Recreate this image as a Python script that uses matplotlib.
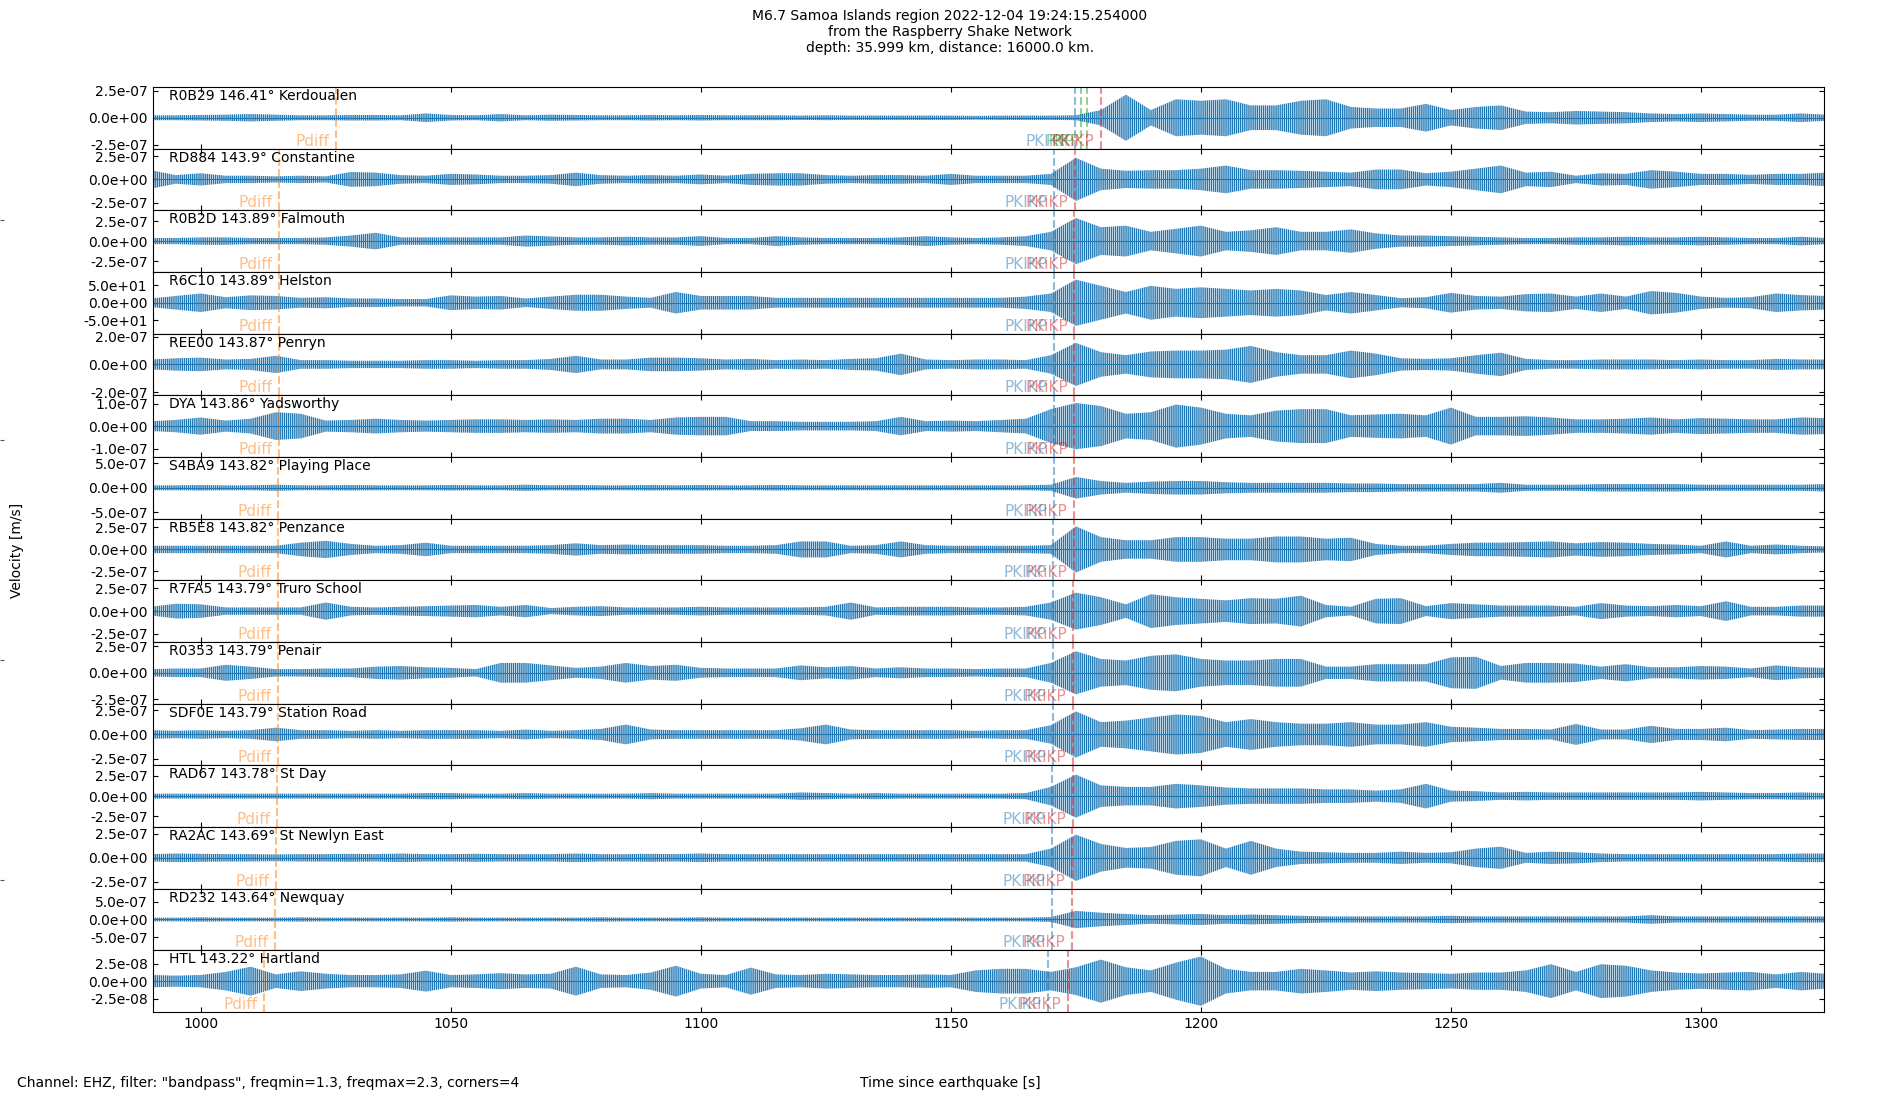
import numpy as np
import matplotlib
matplotlib.use("Agg")
import matplotlib.pyplot as plt
from matplotlib.ticker import FormatStrFormatter, MultipleLocator
from matplotlib.transforms import blended_transform_factory

# stations (top to bottom)
stations = ["R0B29", "RD884", "R0B2D", "R6C10", "REE00", "DYA", "S4BA9", "RB5E8",
            "R7FA5", "R0353", "SDF0E", "RAD67", "RA2AC", "RD232", "HTL"]
distances = ["146.41", "143.9", "143.89", "143.89", "143.87", "143.86", "143.82", "143.82",
             "143.79", "143.79", "143.79", "143.78", "143.69", "143.64", "143.22"]
places = ["Kerdoualen", "Constantine", "Falmouth", "Helston", "Penryn", "Yadsworthy",
          "Playing Place", "Penzance", "Truro School", "Penair", "Station Road", "St Day",
          "St Newlyn East", "Newquay", "Hartland"]

# max amplitude of each trace (axis limit) and the y tick value shown
y_max = [2.85e-07, 3.3e-07, 3.85e-07, 87.0, 2.22e-07, 1.37e-07, 6.25e-07, 3.5e-07,
         3.4e-07, 2.9e-07, 3.2e-07, 3.8e-07, 3.2e-07, 8.6e-07, 4.4e-08]
y_tick = [2.5e-07, 2.5e-07, 2.5e-07, 50.0, 2.0e-07, 1.0e-07, 5.0e-07, 2.5e-07,
          2.5e-07, 2.5e-07, 2.5e-07, 2.5e-07, 2.5e-07, 5.0e-07, 2.5e-08]

# phase arrival times [s]
t_pdiff = [1027.0, 1015.7, 1015.7, 1015.7, 1015.7, 1015.6, 1015.5, 1015.5,
           1015.4, 1015.4, 1015.4, 1015.3, 1015.0, 1014.8, 1012.7]
t_pkikp = [1174.9, 1170.6, 1170.6, 1170.6, 1170.6, 1170.6, 1170.55, 1170.5,
           1170.4, 1170.4, 1170.4, 1170.3, 1170.25, 1170.2, 1169.4]
t_pkikp2 = [1180.0, 1174.85, 1174.7, 1174.7, 1174.7, 1174.7, 1174.6, 1174.55,
            1174.5, 1174.45, 1174.45, 1174.4, 1174.26, 1174.2, 1173.4]
t_pkp_r0b29 = [1176.0, 1177.2]

# trace envelope, % of axis limit, every 5 s from 990 to 1325 s
env_start, env_step = 990, 5
env_R0B29 = [8, 8, 9, 10, 12, 10, 8, 8, 9, 9, 8, 14, 9, 8, 12, 8, 10, 9, 8, 8, 9, 8, 9,
             8, 8, 8, 7, 8, 7, 7, 7, 7, 7, 6, 7, 7, 7, 8, 25, 75, 25, 60, 55, 60, 40, 40,
             55, 60, 35, 30, 30, 45, 25, 35, 40, 20, 18, 22, 20, 18, 14, 12, 14, 12, 10, 10, 14, 10]
env_RD884 = [30, 14, 20, 12, 12, 10, 12, 10, 24, 22, 14, 12, 18, 16, 12, 12, 14, 22, 14, 12, 14, 12, 16,
             12, 18, 20, 20, 14, 12, 14, 14, 12, 18, 12, 12, 12, 18, 70, 35, 28, 30, 30, 35, 45, 30, 30,
             28, 25, 22, 32, 32, 20, 25, 35, 45, 22, 25, 12, 20, 18, 30, 25, 18, 18, 15, 18, 18, 22]
env_R0B2D = [10, 10, 12, 12, 10, 10, 10, 12, 18, 27, 12, 12, 12, 12, 12, 18, 15, 12, 12, 14, 12, 12, 16,
             10, 10, 16, 12, 10, 10, 10, 12, 16, 12, 10, 12, 16, 30, 75, 45, 50, 30, 40, 50, 30, 35, 45,
             30, 30, 38, 25, 18, 18, 16, 14, 12, 10, 10, 12, 12, 14, 12, 12, 14, 12, 10, 10, 14, 10]
env_R6C10 = [14, 22, 30, 18, 24, 22, 16, 18, 14, 14, 12, 12, 24, 20, 22, 14, 20, 26, 26, 20, 16, 35, 22,
             22, 22, 16, 16, 16, 16, 16, 16, 16, 16, 16, 16, 20, 30, 75, 55, 35, 55, 45, 50, 45, 40, 45,
             40, 25, 35, 25, 15, 18, 32, 22, 20, 28, 30, 20, 30, 20, 38, 32, 20, 16, 18, 30, 25, 22]
env_REE00 = [16, 20, 22, 16, 18, 28, 14, 14, 12, 12, 12, 14, 14, 12, 14, 14, 18, 28, 16, 16, 22, 22, 20,
             16, 18, 14, 16, 14, 18, 20, 35, 16, 14, 16, 16, 14, 30, 70, 40, 30, 42, 45, 45, 48, 60, 40,
             30, 30, 45, 35, 20, 18, 20, 30, 38, 18, 14, 14, 16, 16, 16, 14, 16, 14, 14, 18, 16, 16]
env_DYA = [16, 20, 28, 18, 24, 45, 40, 18, 20, 24, 20, 18, 20, 22, 22, 20, 22, 20, 24, 24, 20, 28, 30,
           30, 16, 16, 14, 14, 14, 16, 30, 16, 18, 16, 20, 24, 55, 75, 65, 40, 45, 70, 60, 40, 35, 50,
           55, 55, 35, 38, 40, 35, 60, 30, 30, 32, 28, 22, 22, 24, 28, 22, 26, 24, 22, 22, 28, 26]
env_S4BA9 = [8, 8, 9, 8, 8, 10, 8, 8, 9, 8, 8, 8, 9, 8, 8, 10, 8, 9, 8, 8, 9, 8, 9,
             8, 8, 9, 8, 8, 8, 8, 8, 8, 8, 8, 8, 8, 10, 35, 22, 16, 20, 22, 22, 18, 16, 16,
             16, 16, 14, 14, 12, 12, 12, 12, 16, 10, 10, 10, 12, 12, 12, 12, 10, 10, 10, 10, 10, 12]
env_RB5E8 = [12, 12, 12, 12, 12, 12, 22, 28, 18, 12, 14, 22, 12, 12, 12, 12, 14, 20, 14, 16, 14, 14, 14,
             12, 12, 14, 26, 26, 12, 14, 26, 14, 12, 12, 12, 12, 14, 75, 40, 30, 30, 40, 40, 35, 35, 42,
             42, 35, 38, 18, 12, 12, 18, 22, 22, 24, 26, 20, 24, 22, 18, 16, 12, 26, 12, 16, 12, 10]
env_R7FA5 = [14, 24, 22, 12, 12, 12, 12, 28, 14, 12, 14, 16, 18, 20, 14, 20, 10, 14, 16, 12, 12, 12, 14,
             12, 12, 12, 12, 14, 28, 12, 14, 14, 14, 12, 12, 14, 28, 60, 45, 22, 55, 45, 40, 35, 42, 40,
             50, 20, 14, 40, 42, 16, 26, 22, 18, 18, 18, 14, 26, 18, 16, 20, 16, 32, 14, 14, 18, 18]
env_R0353 = [12, 14, 14, 26, 20, 12, 12, 14, 14, 20, 22, 18, 16, 12, 32, 32, 24, 16, 20, 32, 22, 26, 16,
             14, 14, 14, 24, 18, 22, 14, 18, 14, 14, 12, 14, 14, 32, 70, 45, 40, 55, 60, 45, 40, 40, 45,
             45, 20, 20, 28, 28, 28, 50, 52, 22, 32, 32, 30, 20, 28, 18, 18, 22, 20, 14, 24, 18, 16]
env_SDF0E = [14, 12, 14, 12, 14, 22, 14, 14, 12, 14, 12, 14, 14, 14, 12, 16, 12, 14, 18, 32, 16, 14, 14,
             14, 14, 14, 20, 32, 16, 14, 14, 14, 14, 12, 14, 14, 30, 75, 40, 45, 55, 65, 60, 40, 50, 40,
             35, 35, 40, 32, 32, 40, 25, 22, 18, 18, 16, 34, 16, 16, 28, 18, 18, 22, 14, 16, 18, 18]
env_RAD67 = [8, 8, 8, 8, 8, 8, 8, 8, 8, 8, 8, 10, 10, 8, 8, 10, 8, 8, 8, 8, 10, 8, 8,
             8, 8, 8, 12, 10, 8, 10, 8, 8, 8, 8, 8, 10, 30, 70, 35, 30, 30, 40, 35, 28, 25, 25,
             25, 22, 22, 18, 22, 40, 18, 16, 12, 14, 12, 12, 12, 12, 12, 12, 14, 12, 10, 10, 12, 10]
env_RA2AC = [12, 14, 13, 12, 12, 11, 12, 12, 13, 12, 14, 12, 12, 13, 12, 12, 12, 14, 12, 12, 13, 12, 14,
             12, 12, 12, 12, 12, 12, 12, 12, 12, 12, 12, 12, 12, 30, 75, 45, 32, 35, 55, 60, 30, 55, 30,
             20, 18, 16, 16, 20, 16, 18, 30, 36, 16, 20, 18, 14, 12, 12, 12, 12, 12, 12, 12, 14, 14]
env_RD232 = [6, 6, 7, 6, 6, 6, 7, 6, 6, 6, 6, 6, 7, 6, 6, 6, 6, 6, 7, 6, 6, 6, 7,
             6, 6, 6, 6, 6, 6, 6, 6, 6, 6, 6, 6, 6, 8, 28, 22, 18, 14, 16, 18, 14, 16, 14,
             12, 10, 10, 10, 10, 10, 12, 10, 10, 10, 10, 10, 10, 10, 14, 10, 10, 10, 10, 10, 10, 10]
env_HTL = [20, 18, 20, 30, 47, 22, 32, 24, 20, 20, 22, 34, 20, 22, 26, 22, 24, 47, 22, 20, 28, 50, 24,
           20, 44, 22, 20, 24, 22, 20, 20, 22, 20, 35, 40, 40, 30, 45, 70, 45, 35, 60, 80, 40, 30, 30,
           40, 35, 28, 32, 28, 26, 24, 28, 28, 35, 55, 30, 55, 50, 35, 28, 25, 28, 30, 22, 30, 24]
envelopes = [env_R0B29, env_RD884, env_R0B2D, env_R6C10, env_REE00, env_DYA, env_S4BA9, env_RB5E8,
             env_R7FA5, env_R0353, env_SDF0E, env_RAD67, env_RA2AC, env_RD232, env_HTL]

title = ("M6.7 Samoa Islands region 2022-12-04 19:24:15.254000\n"
         "from the Raspberry Shake Network\n"
         "depth: 35.999 km, distance: 16000.0 km.")

plt.rcParams["hatch.linewidth"] = 1.0

fig = plt.figure(figsize=(19, 11), dpi=100)
gs = fig.add_gridspec(len(stations), 1, left=0.0804, right=0.96, top=0.921, bottom=0.080, hspace=0)

# faint marks of an invisible full-figure axis on the left border
bg = fig.add_axes([0, 0, 1, 1], frameon=False, zorder=-1)
bg.set_xticks([])
bg.set_yticks([0.2, 0.4, 0.6, 0.8])
bg.set_yticklabels([])
bg.tick_params(axis="y", direction="in", length=3, width=0.8, colors="#555555")
bg.set_ylim(0, 1)

c_blue, c_orange, c_green, c_red = "C0", "C1", "C2", "C3"
axes = []
for i, st in enumerate(stations):
    ax = fig.add_subplot(gs[i], sharex=axes[0] if axes else None)
    axes.append(ax)
    env = np.array(envelopes[i]) / 100.0 * y_max[i]
    t = env_start + env_step * np.arange(len(env))
    # dense vertical hatching stands in for the fast wiggles of the trace
    ax.fill_between(t, -env, env, facecolor="none", edgecolor=c_blue, hatch="||||||||", linewidth=0)
    ax.axhline(0, color=c_blue, lw=0.8)
    ax.set_ylim(-y_max[i], y_max[i])
    ax.set_yticks([-y_tick[i], 0, y_tick[i]])
    ax.yaxis.set_major_formatter(FormatStrFormatter("%.1e"))
    ax.tick_params(direction="in", top=True, right=True, labelsize=10)
    ax.tick_params(axis="x", labelbottom=(i == len(stations) - 1))
    ax.text(0.01, 0.965, f"{st} {distances[i]}\u00b0 {places[i]}", transform=ax.transAxes,
            va="top", ha="left", fontsize=10)

    tr = blended_transform_factory(ax.transData, ax.transAxes)
    phases = [("Pdiff", t_pdiff[i], c_orange), ("PKIKP", t_pkikp[i], c_blue)]
    if i == 0:
        phases += [("PKP", t_pkp_r0b29[0], c_green), ("PKP", t_pkp_r0b29[1], c_green)]
    phases.append(("PKiKP", t_pkikp2[i], c_red))
    for name, tp, col in phases:
        ax.axvline(tp, color=col, ls="--", lw=1.5, alpha=0.5)
        ax.text(tp - 1.3, 0.0, name, transform=tr, color=col, alpha=0.5,
                ha="right", va="bottom", fontsize=11)

axes[0].set_xlim(990.4, 1324.6)
axes[0].xaxis.set_major_locator(MultipleLocator(50))

fig.suptitle(title, fontsize=10, y=0.992, va="top")
fig.text(0.009, 0.5, "Velocity [m/s]", rotation=90, va="center", ha="center", fontsize=10)
fig.text(0.5, 0.0095, "Time since earthquake [s]", ha="center", va="bottom", fontsize=10)
fig.text(0.009, 0.0095, 'Channel: EHZ, filter: "bandpass", freqmin=1.3, freqmax=2.3, corners=4',
         ha="left", va="bottom", fontsize=10)

fig.savefig("out.png", dpi=100)
